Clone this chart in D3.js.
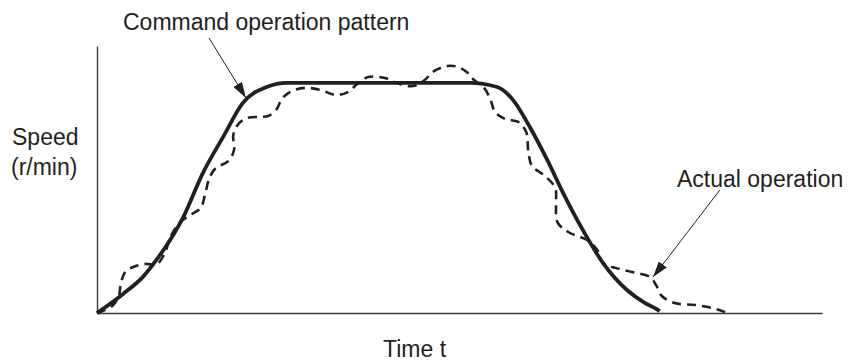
<!DOCTYPE html>
<meta charset="utf-8">
<style>
    body { margin: 0; background: #fff; }
    text {
        font-family: "Liberation Sans", Arial, sans-serif;
        font-size: 23px;
        fill: #231f20;
    }
    .axis path { stroke: #3a3a3a; stroke-width: 1.4px; }
    .command { fill: none; stroke: #231f20; stroke-width: 3.8px; }
    .actual { fill: none; stroke: #231f20; stroke-width: 2.6px; stroke-dasharray: 9, 6; }
    .pointer { stroke: #231f20; stroke-width: 1px; }
</style>
<body>
<svg width="850" height="361"></svg>
</body>
<script src="https://d3js.org/d3.v7.min.js"></script>
<script>

    // command operation pattern (time, speed)
    var cmdTime  = [0, 3.6, 6.3, 8.3, 11.9, 14.6, 17.4, 20.1, 23.4, 26.2, 51.4, 55.2, 57.4, 59.7, 62.1, 64.3, 67.0, 69.8, 73.1, 75.6, 77.2, 77.6];
    var cmdSpeed = [0, 8.3, 15.6, 23.5, 41.7, 60.8, 76.5, 91.2, 98.2, 100, 100, 98.2, 92.5, 80.8, 66.5, 52.1, 36.1, 21.7, 10.0, 4.3, 1.7, 0.8];

    // actual operation (time, speed)
    var actTime  = [0, 2.1, 3.0, 3.3, 3.9, 5.0, 6.6, 8.3, 9.4, 10.2, 11.5, 13.1, 14.3, 14.9, 15.5, 16.4, 18.1, 18.9, 18.8, 19.5,
                    20.7, 22.5, 23.6, 24.7, 25.5, 26.6, 28.7, 30.8, 33.0, 34.6, 35.9, 37.4, 39.7, 41.4, 43.6, 45.2, 46.3, 48.3, 49.8, 51.0,
                    52.0, 53.4, 54.3, 54.9, 56.3, 58.1, 59.2, 59.5, 60.0, 61.8, 63.2, 63.3, 63.5, 65.0, 67.6, 69.0, 69.8, 71.5, 73.8, 76.3,
                    77.1, 77.9, 79.7, 82.5, 84.8, 86.2, 86.9];
    var actSpeed = [0, 3.0, 7.4, 13.0, 17.8, 20.0, 21.3, 21.3, 26.5, 33.5, 39.5, 43.0, 45.6, 51.3, 58.7, 63.0, 66.0, 70.8, 77.3, 82.1,
                    84.7, 85.2, 85.6, 88.2, 93.0, 96.0, 97.8, 96.9, 94.7, 96.0, 99.5, 102.5, 102.1, 99.9, 98.6, 101.2, 104.7, 107.3, 106.9, 104.7,
                    101.2, 97.8, 92.5, 87.3, 84.3, 83.0, 78.6, 69.9, 63.9, 59.5, 54.3, 46.9, 39.5, 35.2, 31.7, 27.4, 21.7, 19.6, 17.8, 15.6,
                    12.2, 7.4, 4.3, 3.5, 2.2, 0.9, 0];

    // annotation arrows: [fromTime, fromSpeed, toTime, toSpeed]
    var cmdArrow = [15.45, 119.5, 20.55, 93.4];
    var actArrow = [85.9, 53.4, 76.7, 15.6];

    var svg = d3.select("svg");

    var x = d3.scaleLinear().domain([0, 100]).range([97, 822]);
    var y = d3.scaleLinear().domain([0, 116]).range([313, 46]);

    // arrow head
    svg.append("defs").append("marker")
            .attr("id", "head")
            .attr("markerUnits", "userSpaceOnUse")
            .attr("viewBox", "0 -5 16 10")
            .attr("refX", 16)
            .attr("refY", 0)
            .attr("markerWidth", 16)
            .attr("markerHeight", 10)
            .attr("orient", "auto")
        .append("path")
            .attr("d", "M0,-5L16,0L0,5Z")
            .style("fill", "#231f20");

    // axes, no ticks
    svg.append("g")
            .attr("class", "axis")
            .attr("transform", "translate(0," + y(0) + ")")
            .call(d3.axisBottom(x).tickValues([]).tickSizeOuter(0));
    svg.append("g")
            .attr("class", "axis")
            .attr("transform", "translate(" + x(0) + ",0)")
            .call(d3.axisLeft(y).tickValues([]).tickSizeOuter(0));

    var line = d3.line()
            .x(function (d) { return x(d[0]); })
            .y(function (d) { return y(d[1]); });

    svg.append("path")
            .attr("class", "actual")
            .attr("d", line.curve(d3.curveCatmullRom.alpha(0.5))(d3.zip(actTime, actSpeed)));

    svg.append("path")
            .attr("class", "command")
            .attr("d", line.curve(d3.curveMonotoneX)(d3.zip(cmdTime, cmdSpeed)));

    [cmdArrow, actArrow].forEach(function (a) {
        svg.append("line")
                .attr("class", "pointer")
                .attr("x1", x(a[0])).attr("y1", y(a[1]))
                .attr("x2", x(a[2])).attr("y2", y(a[3]))
                .attr("marker-end", "url(#head)");
    });

    // labels
    svg.append("text").attr("x", 123).attr("y", 30).text("Command operation pattern");
    svg.append("text").attr("x", 677).attr("y", 187).text("Actual operation");
    svg.append("text").attr("x", 383).attr("y", 357).text("Time t");
    svg.append("text").attr("x", 12).attr("y", 145).text("Speed");
    svg.append("text").attr("x", 11).attr("y", 175).text("(r/min)");

</script>
